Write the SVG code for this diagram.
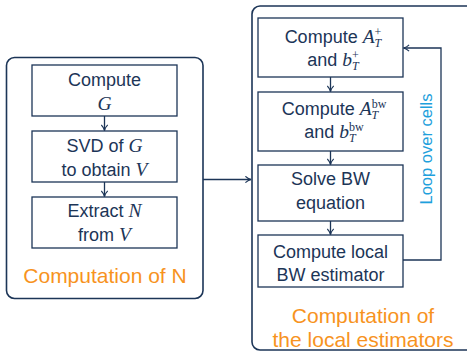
<svg xmlns="http://www.w3.org/2000/svg" width="467" height="353" viewBox="0 0 467 353">
<style>
.outer{fill:#fff;stroke:#1c3557;stroke-width:1.6}
.box{fill:#fff;stroke:#1c3557;stroke-width:1.3}
.t{font-family:"Liberation Sans",Arial,sans-serif;font-size:18px;fill:#1c3557;text-anchor:middle}
.m{font-family:"Liberation Serif","Times New Roman",serif;font-style:italic;font-size:19.5px}
.s{font-family:"Liberation Serif","Times New Roman",serif;font-size:12px}
.si{font-family:"Liberation Serif","Times New Roman",serif;font-style:italic;font-size:12px}
.o{font-family:"Liberation Sans",Arial,sans-serif;font-size:21px;fill:#f7931e;text-anchor:middle}
.loop{font-family:"Liberation Sans",Arial,sans-serif;font-size:16.5px;fill:#1ea0dc;text-anchor:middle}
.c{fill:none;stroke:#1c3557;stroke-width:1.3}
</style>
<defs>
<marker id="ah" viewBox="0 0 10 10" refX="9" refY="5" markerWidth="8" markerHeight="8" markerUnits="userSpaceOnUse" orient="auto">
<path d="M2,1 Q5,4 9,5 Q5,6 2,9" fill="none" stroke="#1c3557" stroke-width="1.4"/>
</marker>
</defs>
<g id="groupN">
<rect class="outer" x="6.5" y="57.5" width="196.5" height="241" rx="8"/>
<text class="o" x="105" y="283">Computation of N</text>
</g>
<g id="groupEst">
<rect class="outer" x="252" y="6" width="225" height="344" rx="8"/>
<text class="o" x="363" y="323">Computation of</text>
<text class="o" x="363" y="346.5">the local estimators</text>
</g>
<g id="computeG">
<rect class="box" x="32" y="65" width="145" height="51"/>
<text class="t" x="104.5" y="86">Compute</text>
<text class="t" x="104.5" y="110"><tspan class="m">G</tspan></text>
</g>
<g id="svd">
<rect class="box" x="32" y="131" width="145" height="51"/>
<text class="t" x="104.5" y="151.5">SVD of <tspan class="m">G</tspan></text>
<text class="t" x="104.5" y="175.5">to obtain <tspan class="m">V</tspan></text>
</g>
<g id="extractN">
<rect class="box" x="32" y="197" width="145" height="51"/>
<text class="t" x="104.5" y="216.5">Extract <tspan class="m">N</tspan></text>
<text class="t" x="104.5" y="240.5">from <tspan class="m">V</tspan></text>
</g>
<g id="computeAplus">
<rect class="box" x="258" y="18" width="145" height="59"/>
<text class="t" x="333" y="43">Compute <tspan class="m">A</tspan><tspan class="s" dy="-7">+</tspan><tspan class="si" dx="-6.8" dy="11">T</tspan></text>
<text class="t" x="333" y="66">and <tspan class="m">b</tspan><tspan class="s" dy="-7">+</tspan><tspan class="si" dx="-6.8" dy="11">T</tspan></text>
</g>
<g id="computeAbw">
<rect class="box" x="258" y="92" width="145" height="59"/>
<text class="t" x="334" y="115">Compute <tspan class="m">A</tspan><tspan class="s" dy="-7">bw</tspan><tspan class="si" dx="-14.7" dy="11">T</tspan></text>
<text class="t" x="334" y="138">and <tspan class="m">b</tspan><tspan class="s" dy="-7">bw</tspan><tspan class="si" dx="-14.7" dy="11">T</tspan></text>
</g>
<g id="solveBW">
<rect class="box" x="258" y="165" width="145" height="56"/>
<text class="t" x="330.5" y="185">Solve BW</text>
<text class="t" x="330.5" y="208.5">equation</text>
</g>
<g id="localBW">
<rect class="box" x="258" y="235" width="145" height="52"/>
<text class="t" x="330.5" y="257.5">Compute local</text>
<text class="t" x="330.5" y="281">BW estimator</text>
</g>
<g id="connectors">
<line class="c" x1="104.5" y1="116" x2="104.5" y2="130.5" marker-end="url(#ah)"/>
<line class="c" x1="104.5" y1="182" x2="104.5" y2="196.5" marker-end="url(#ah)"/>
<line class="c" x1="330.5" y1="77" x2="330.5" y2="91.5" marker-end="url(#ah)"/>
<line class="c" x1="330.5" y1="151" x2="330.5" y2="164.5" marker-end="url(#ah)"/>
<line class="c" x1="330.5" y1="221" x2="330.5" y2="234.5" marker-end="url(#ah)"/>
<line class="c" x1="203" y1="179.5" x2="251" y2="179.5" marker-end="url(#ah)"/>
<polyline class="c" points="403,260 441,260 441,48 403.5,48" marker-end="url(#ah)"/>
<text class="loop" transform="translate(432,149) rotate(-90)">Loop over cells</text>
</g>
</svg>
